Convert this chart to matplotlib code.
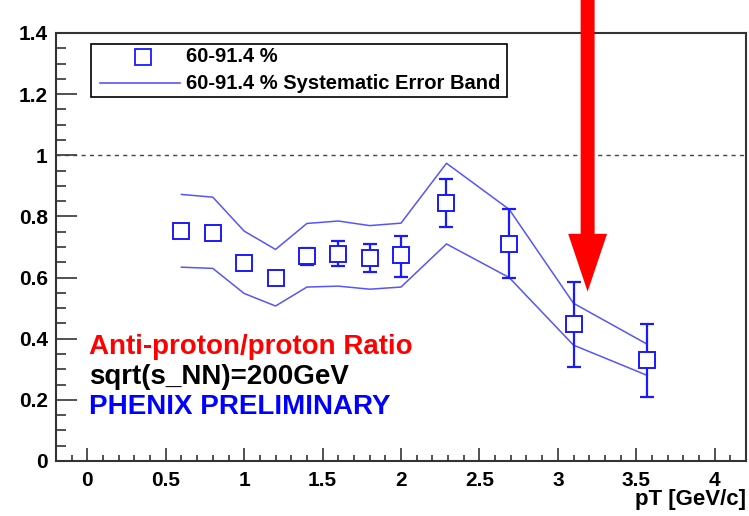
import matplotlib
matplotlib.use("Agg")
import matplotlib.pyplot as plt
from matplotlib.patches import Rectangle, FancyArrow
from matplotlib.lines import Line2D
from matplotlib.ticker import MultipleLocator

plt.rcParams['font.family'] = ['Liberation Sans', 'DejaVu Sans']
plt.rcParams['font.weight'] = 'bold'

# ---- data ----
pt = [0.6, 0.8, 1.0, 1.2, 1.4, 1.6, 1.8, 2.0, 2.29, 2.69, 3.1, 3.57]
ratio = [0.753, 0.746, 0.649, 0.599, 0.672, 0.676, 0.665, 0.673, 0.843, 0.711, 0.447, 0.330]
err_up = [0.01, 0.01, 0.01, 0.01, 0.026, 0.043, 0.046, 0.064, 0.081, 0.112, 0.138, 0.117]
err_dn = [0.01, 0.01, 0.01, 0.01, 0.030, 0.039, 0.047, 0.070, 0.078, 0.111, 0.140, 0.120]
band_upper = [0.872, 0.863, 0.752, 0.692, 0.777, 0.785, 0.770, 0.778, 0.974, 0.823, 0.516, 0.382]
band_lower = [0.634, 0.630, 0.548, 0.507, 0.569, 0.572, 0.562, 0.569, 0.710, 0.600, 0.379, 0.280]
arrow_x = 3.19
arrow_top = 1.51
arrow_tip = 0.554

xticks = [0, 0.5, 1, 1.5, 2, 2.5, 3, 3.5, 4]
xticklabels = ['0', '0.5', '1', '1.5', '2', '2.5', '3', '3.5', '4']
yticks = [0, 0.2, 0.4, 0.6, 0.8, 1.0, 1.2, 1.4]
yticklabels = ['0', '0.2', '0.4', '0.6', '0.8', '1', '1.2', '1.4']

fig = plt.figure(figsize=(7.49, 5.16), dpi=100)
ax = fig.add_axes([56/749, 1-461/516, 690/749, 428/516])
ax.set_xlim(-0.2, 4.2)
ax.set_ylim(0, 1.4)

frame_c = '#333333'
for s in ax.spines.values():
    s.set_color(frame_c)
    s.set_linewidth(1.5)

ax.axhline(1.0, color='#444444', lw=1.0, ls=(0, (3, 3)))

blue = '#1a1aff'
band_c = '#5555ff'
ax.plot(pt, band_upper, color=band_c, lw=1.1)
ax.plot(pt, band_lower, color=band_c, lw=1.1)

ax.errorbar(pt, ratio, yerr=[err_dn, err_up], fmt='none', ecolor=blue,
            elinewidth=1.6, capsize=5, capthick=1.6, zorder=3)
ax.plot(pt, ratio, ls='none', marker='s', markersize=12, markerfacecolor='white',
        markeredgecolor=blue, markeredgewidth=1.4, zorder=4)

# arrow
ar = FancyArrow(arrow_x, arrow_top, 0, arrow_tip - arrow_top, width=0.089,
                head_width=0.248, head_length=0.189, length_includes_head=True,
                color='#ff0000', lw=0, clip_on=False, zorder=5)
ax.add_patch(ar)

# ticks
ax.set_xticks(xticks)
ax.set_xticklabels(xticklabels)
ax.set_yticks(yticks)
ax.set_yticklabels(yticklabels)
ax.xaxis.set_minor_locator(MultipleLocator(0.1))
ax.yaxis.set_minor_locator(MultipleLocator(0.05))
ax.tick_params(axis='x', which='major', direction='in', length=9.2, width=1.2,
               color=frame_c, labelsize=15, pad=7, top=False)
ax.tick_params(axis='x', which='minor', direction='in', length=4.6, width=1.2,
               color=frame_c, top=False)
ax.tick_params(axis='y', which='major', direction='in', length=15, width=1.2,
               color=frame_c, labelsize=15, pad=6, right=False)
ax.tick_params(axis='y', which='minor', direction='in', length=7.5, width=1.2,
               color=frame_c, right=False)
for lab in ax.get_xticklabels() + ax.get_yticklabels():
    lab.set_fontweight('bold')

fig.text(746/749, 1-500/516, 'pT [GeV/c]', ha='right', va='center',
         fontsize=16, fontweight='bold')

# annotation texts
ax.text(0.01, 0.373, 'Anti-proton/proton Ratio', color='#ff0000', fontsize=20,
        fontweight='bold', va='center', ha='left')
ax.text(0.01, 0.275, 'sqrt(s_NN)=200GeV', color='black', fontsize=20,
        fontweight='bold', va='center', ha='left')
ax.text(0.01, 0.177, 'PHENIX PRELIMINARY', color='#0000ff', fontsize=20,
        fontweight='bold', va='center', ha='left')

# legend (manual, ROOT style)
ax.add_patch(Rectangle((0.0507, 0.850), 0.6029, 0.124, transform=ax.transAxes,
                       facecolor='white', edgecolor='black', lw=1.2, zorder=6))
ax.add_line(Line2D([0.126], [0.944], transform=ax.transAxes, marker='s',
                   markersize=11, markerfacecolor='white', markeredgecolor=blue,
                   markeredgewidth=1.3, ls='none', zorder=7))
ax.add_line(Line2D([0.0638, 0.18], [0.883, 0.883], transform=ax.transAxes,
                   color=band_c, lw=1.2, zorder=7))
ax.text(0.188, 0.944, '60-91.4 %', transform=ax.transAxes, fontsize=14.5,
        fontweight='bold', va='center', ha='left', zorder=7)
ax.text(0.188, 0.883, '60-91.4 % Systematic Error Band', transform=ax.transAxes,
        fontsize=14.5, fontweight='bold', va='center', ha='left', zorder=7)

fig.savefig('out.png', dpi=100)
